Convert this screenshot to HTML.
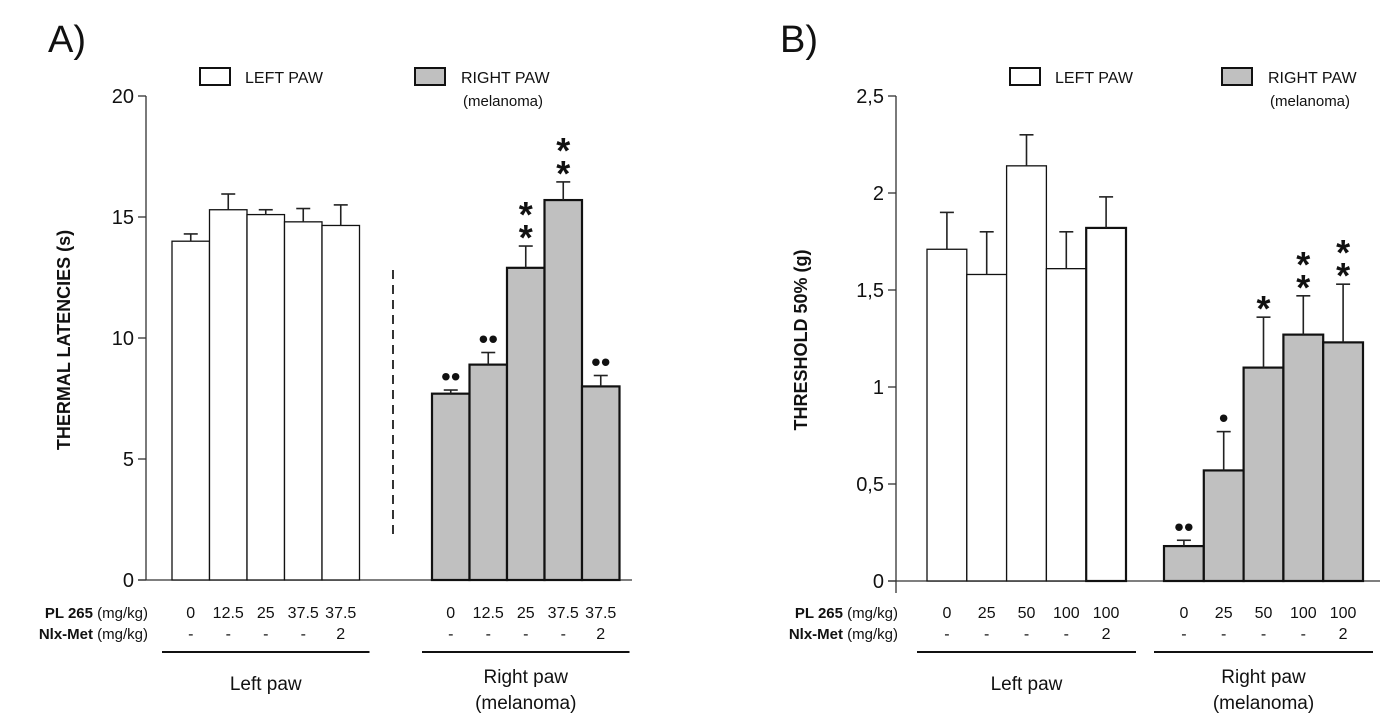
<!DOCTYPE html>
<html><head><meta charset="utf-8"><style>
body{margin:0;background:#fff}
svg{display:block;font-family:"Liberation Sans",Arial,sans-serif}
</style></head><body>
<svg id="c" width="1397" height="719" viewBox="0 0 1397 719"></svg>
<script>
const aLeft=[14.0,15.3,15.1,14.8,14.65];
const aLeftErr=[0.3,0.65,0.2,0.55,0.85];
const aRight=[7.7,8.9,12.9,15.7,8.0];
const aRightErr=[0.15,0.5,0.9,0.75,0.45];
const aRightMarks=["••","••","**","**","••"];
const aDoses=["0","12.5","25","37.5","37.5"];
const aTicks=[0,5,10,15,20];
const bLeft=[1.71,1.58,2.14,1.61,1.82];
const bLeftErr=[0.19,0.22,0.16,0.19,0.16];
const bRight=[0.18,0.57,1.1,1.27,1.23];
const bRightErr=[0.03,0.2,0.26,0.2,0.3];
const bRightMarks=["••","•","*","**","**"];
const bDoses=["0","25","50","100","100"];
const bTicks=["0","0,5","1","1,5","2","2,5"];
const bTickVals=[0,0.5,1,1.5,2,2.5];
const nlx=["-","-","-","-","2"];

const svg=document.getElementById('c');
const NS="http://www.w3.org/2000/svg";
function el(tag,attrs,name,parent){const e=document.createElementNS(NS,tag);for(const k in attrs)e.setAttribute(k,attrs[k]);


(parent||svg).appendChild(e);return e;}
function txt(x,y,s,size,name,opt){const t=el('text',Object.assign({x:x,y:y,'font-size':size,fill:'#111'},opt||{}),name);t.textContent=s;return t;}

function panel(P){
  const y=v=>P.y0-(v/P.max)*(P.y0-P.yTop);
  el('line',{x1:P.ax,y1:P.yTop,x2:P.ax,y2:P.y0+(P.axExt||0),stroke:'#333','stroke-width':1.3},'y-axis');
  el('line',{x1:P.ax-8,y1:P.y0,x2:P.xEnd,y2:P.y0,stroke:'#333','stroke-width':1.3},'x-axis');
  P.tickVals.forEach((v,i)=>{el('line',{x1:P.ax-8,y1:y(v),x2:P.ax,y2:y(v),stroke:'#333','stroke-width':1.3},'y-tick');
    txt(P.ax-12,y(v)+7,P.tickLabels[i],20,'y-tick-label',{'text-anchor':'end'});});
  const drawGroup=(x0,vals,errs,fill,thickLast,marks,grp)=>{
    vals.forEach((v,i)=>{const x=x0+i*P.bw;const yt=y(v);
      const sw=(fill!=='#fff'||(thickLast&&i===4))?2.2:1.3;
      el('rect',{x:x,y:yt,width:P.bw,height:P.y0-yt,fill:fill,stroke:'#111','stroke-width':sw},grp+'-bar-'+(i+1));
      const ye=y(v+errs[i]);const cx=x+P.bw/2;
      el('line',{x1:cx,y1:yt,x2:cx,y2:ye,stroke:'#222','stroke-width':1.6},grp+'-error-bar');
      el('line',{x1:cx-7,y1:ye,x2:cx+7,y2:ye,stroke:'#222','stroke-width':1.6},grp+'-error-cap');
      if(marks){const m=marks[i];
        if(m==='**'){txt(cx,ye+4,'*',36,'significance-mark',{'text-anchor':'middle','font-weight':'bold'});txt(cx,ye-19,'*',36,'significance-mark',{'text-anchor':'middle','font-weight':'bold'});}
        else if(m==='*'){txt(cx,ye+4,'*',36,'significance-mark',{'text-anchor':'middle','font-weight':'bold'});}
        else {txt(cx,ye-4,m,28,'significance-mark',{'text-anchor':'middle'});}
      }
    });
    vals.forEach((v,i)=>{const cx=x0+i*P.bw+P.bw/2;
      txt(cx,618,P.doses[i],16,'dose-label',{'text-anchor':'middle'});
      txt(cx,639,nlx[i],16,'nlx-label',{'text-anchor':'middle'});});
    el('line',{x1:x0-10,y1:652,x2:x0+5*P.bw+10,y2:652,stroke:'#111','stroke-width':2},grp+'-group-line');
  };
  drawGroup(P.lx,P.left,P.leftErr,'#fff',P.thickLast,null,'left');
  drawGroup(P.rx,P.right,P.rightErr,'#c0c0c0',false,P.marks,'right');
  const lc=P.lx+2.5*P.bw, rc=P.rx+2.5*P.bw;
  txt(lc,690,'Left paw',19,'group-label-left',{'text-anchor':'middle'});
  txt(rc,683,'Right paw',19,'group-label-right',{'text-anchor':'middle'});
  txt(rc,709,'(melanoma)',19,'group-label-right-sub',{'text-anchor':'middle'});
  txt(P.rowX,618,'',15,'pl265-row-label',{'text-anchor':'end'}).innerHTML='<tspan font-weight="bold">PL 265</tspan><tspan> (mg/kg)</tspan>';
  txt(P.rowX,639,'',15,'nlx-row-label',{'text-anchor':'end'}).innerHTML='<tspan font-weight="bold">Nlx-Met</tspan><tspan> (mg/kg)</tspan>';
  txt(P.panelX,52,P.panelLabel,38,'panel-label');
  txt(P.titleX,P.titleY,P.title,18,'y-axis-title',{'text-anchor':'middle','font-weight':'bold',transform:`rotate(-90 ${P.titleX} ${P.titleY})`});
  el('rect',{x:P.lgx,y:68,width:30,height:17,fill:'#fff',stroke:'#111','stroke-width':2},'legend-swatch-left');
  txt(P.lgx+45,83,'LEFT  PAW',16,'legend-label-left',{'xml:space':'preserve'});
  el('rect',{x:P.rgx,y:68,width:30,height:17,fill:'#c0c0c0',stroke:'#111','stroke-width':2},'legend-swatch-right');
  txt(P.rgx+46,83,'RIGHT  PAW',16,'legend-label-right',{'xml:space':'preserve'});
  txt(P.rgx+48,106,'(melanoma)',15,'legend-label-right-sub');
}
panel({ax:146,yTop:96,y0:580,max:20,xEnd:632,tickVals:aTicks,tickLabels:aTicks.map(String),bw:37.5,lx:172,rx:432,
  left:aLeft,leftErr:aLeftErr,right:aRight,rightErr:aRightErr,marks:aRightMarks,doses:aDoses,thickLast:false,
  rowX:148,panelX:48,panelLabel:'A)',title:'THERMAL  LATENCIES (s)',titleX:70,titleY:340,lgx:200,rgx:415});
panel({ax:896,yTop:96,y0:581,max:2.5,xEnd:1380,axExt:12,tickVals:bTickVals,tickLabels:bTicks,bw:39.8,lx:927,rx:1164,
  left:bLeft,leftErr:bLeftErr,right:bRight,rightErr:bRightErr,marks:bRightMarks,doses:bDoses,thickLast:true,
  rowX:898,panelX:780,panelLabel:'B)',title:'THRESHOLD 50% (g)',titleX:807,titleY:340,lgx:1010,rgx:1222});
el('line',{x1:393,y1:270,x2:393,y2:540,stroke:'#333','stroke-width':2,'stroke-dasharray':'9,6'},'separator-dashed-line');
</script>
</body></html>
